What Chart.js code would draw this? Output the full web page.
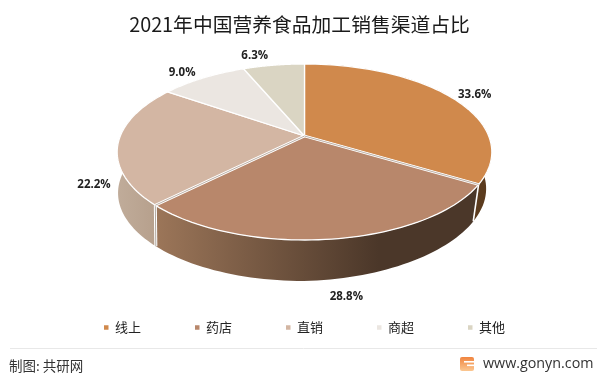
<!DOCTYPE html>
<html><head><meta charset="utf-8">
<style>html,body{margin:0;padding:0;background:#fff}#w{width:599px;height:375px;position:relative}</style>
<script src="https://cdn.jsdelivr.net/npm/chart.js@4/dist/chart.umd.min.js"></script>
</head><body><div id="w"><canvas id="c" width="599" height="375"></canvas></div>
<script>
const categories = ['线上','药店','直销','商超','其他'];
const shares = [33.6,28.8,22.2,9.0,6.3];
const faceColors = ['#D0894C','#B8876B','#D3B6A3','#EBE6E1','#DAD5C3'];
const titleText = '2021年中国营养食品加工销售渠道占比';
const sourceText = '制图: 共研网';
const siteText = 'www.gonyn.com';
const CJK = '"Noto Sans CJK SC","Noto Sans",sans-serif';

const view = {cx:304.5, cy:136, rx:184.2, ry:85.1, k:0.1818, depth:41};
const labelNudge = [[23,-3],[16,17],[-24,41],[-21,-5],[-19,-9]];
const wallStops = [
  [[0,'#5b3b1e'],[1,'#5b3b1e']],
  [[0,'#9c7659'],[0.69,'#4b3729'],[1,'#4b3729']],
  [[0,'#c0ac9a'],[1,'#b39c88']],
  [[0,'#c9c4bf'],[1,'#c9c4bf']],
  [[0,'#b9b4a5'],[1,'#b9b4a5']]
];
const seamed = [1];

function top3d(t){
  const u=Math.sin(t), v=-Math.cos(t), w=1-view.k*v;
  return {x:view.cx+view.rx*u/w, y:view.cy+view.ry*v/w};
}
function bottom3d(t){
  const p=top3d(t), X=p.x-view.cx;
  return {x:view.cx-1+X*(X<0?0.99:0.975), y:p.y+view.depth-0.023*Math.max(0,X)};
}
const theta = a => a+Math.PI/2;

const pie3d = {
  id:'pie3d',
  afterLayout(chart){
    chart.legend.left+=5; chart.legend.right+=5;
  },
  beforeDatasetDraw(chart){
    const ctx=chart.ctx, arcs=chart.getDatasetMeta(0).data;
    const N=60;
    const sample=(a,b,f)=>{const r=[];for(let i=0;i<=N;i++)r.push(f(a+(b-a)*i/N));return r;};
    ctx.save();
    ctx.lineJoin='round';
    // side walls
    arcs.forEach((arc,i)=>{
      const a=theta(arc.startAngle), b=theta(arc.endAngle);
      const up=sample(a,b,top3d), dn=sample(a,b,bottom3d).reverse();
      const xs=up.concat(dn).map(p=>p.x);
      const g=ctx.createLinearGradient(Math.min(...xs),0,Math.max(...xs),0);
      wallStops[i].forEach(s=>g.addColorStop(s[0],s[1]));
      ctx.beginPath();
      up.concat(dn).forEach((p,j)=>j?ctx.lineTo(p.x,p.y):ctx.moveTo(p.x,p.y));
      ctx.closePath();
      ctx.fillStyle=g; ctx.fill();
    });
    // wall seams
    arcs.forEach((arc,i)=>{
      const t=theta(arc.endAngle), p=top3d(t), q=bottom3d(t);
      const dbl=seamed.includes(i)||seamed.includes((i+1)%arcs.length);
      ctx.strokeStyle='#fff'; ctx.lineWidth=dbl?(i===1?3:1.6):1.2;
      ctx.beginPath();ctx.moveTo(p.x,p.y);ctx.lineTo(q.x,q.y);ctx.stroke();
      if(i===1){ctx.strokeStyle='rgba(120,105,90,.75)';ctx.lineWidth=.8;ctx.beginPath();ctx.moveTo(p.x,p.y);ctx.lineTo(q.x,q.y);ctx.stroke();}
    });
    // top faces
    const apex={x:view.cx,y:view.cy};
    arcs.forEach((arc,i)=>{
      const a=theta(arc.startAngle), b=theta(arc.endAngle);
      const rim=sample(a,b,top3d);
      ctx.beginPath();ctx.moveTo(apex.x,apex.y);
      rim.forEach(p=>ctx.lineTo(p.x,p.y));
      ctx.closePath();
      ctx.fillStyle=faceColors[i];ctx.fill();
      ctx.strokeStyle='#fff';ctx.lineWidth=1.3;ctx.stroke();
    });
    // doubled seams
    seamed.forEach(i=>{
      [arcs[i].startAngle,arcs[i].endAngle].forEach(an=>{
        const p=top3d(theta(an));
        ctx.strokeStyle='#fff';ctx.lineWidth=2.8;
        ctx.beginPath();ctx.moveTo(apex.x,apex.y);ctx.lineTo(p.x,p.y);ctx.stroke();
        ctx.strokeStyle='rgba(150,130,115,.8)';ctx.lineWidth=.8;
        ctx.beginPath();ctx.moveTo(apex.x,apex.y);ctx.lineTo(p.x,p.y);ctx.stroke();
      });
    });
    // value labels
    ctx.font='bold 11.5px "Open Sans","Noto Sans",sans-serif';
    ctx.fillStyle='#222';ctx.textAlign='center';ctx.textBaseline='middle';
    arcs.forEach((arc,i)=>{
      const t=theta((arc.startAngle+arc.endAngle)/2), p=top3d(t);
      const base=(i===1)?bottom3d(t):p;
      ctx.fillText(shares[i].toFixed(1)+'%',base.x+labelNudge[i][0],base.y+labelNudge[i][1]);
    });
    ctx.restore();
    return false;
  },
  afterDraw(chart){
    const ctx=chart.ctx;
    ctx.save();
    ctx.strokeStyle='#e8e8e8';ctx.lineWidth=1;
    ctx.beginPath();ctx.moveTo(10,348.5);ctx.lineTo(597,348.5);ctx.stroke();
    ctx.fillStyle='#333';ctx.textBaseline='middle';ctx.textAlign='left';
    ctx.font='13.5px '+CJK;
    ctx.fillText(sourceText,9,366);
    ctx.font='14.3px "Open Sans",sans-serif';
    ctx.fillText(siteText,483,364);
    const g=ctx.createLinearGradient(0,357,0,371);
    g.addColorStop(0,'#F0843F');g.addColorStop(1,'#FBC791');
    ctx.fillStyle=g;
    ctx.beginPath();ctx.roundRect(460,357,14,14,2);ctx.fill();
    ctx.fillStyle='#fff';
    ctx.fillRect(464,361,10,1.6);
    ctx.fillRect(467,364.5,7,1.6);
    ctx.restore();
  }
};

new Chart(document.getElementById('c'),{
  type:'pie',
  plugins:[pie3d],
  data:{labels:categories,datasets:[{data:shares,backgroundColor:faceColors,borderWidth:0}]},
  options:{
    responsive:false,animation:false,
    layout:{padding:{bottom:31}},
    plugins:{
      tooltip:{enabled:false},
      title:{display:true,text:titleText,color:'#1a1a1a',
        font:{family:CJK,size:19.8,weight:'normal'},padding:{top:13,bottom:8}},
      legend:{display:true,position:'bottom',
        labels:{boxWidth:4.5,boxHeight:4.5,padding:54,color:'#222',font:{family:CJK,size:13}}}
    }
  }
});
</script></body></html>
